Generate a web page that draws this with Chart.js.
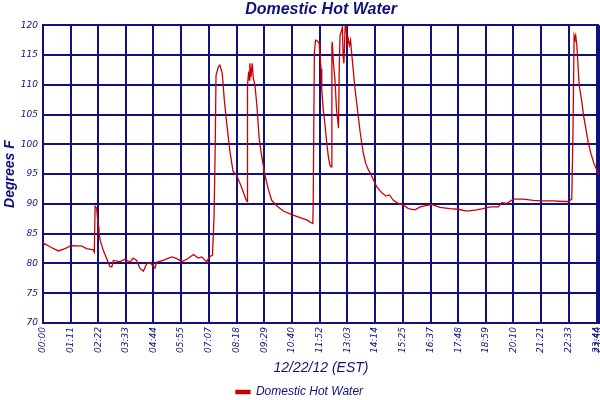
<!DOCTYPE html>
<html>
<head>
<meta charset="utf-8">
<script src="https://cdn.jsdelivr.net/npm/chart.js@4.4.1/dist/chart.umd.min.js"></script>
<style>
  html, body { margin: 0; padding: 0; background: #fff; }
  #wrap { width: 600px; height: 400px; }
</style>
</head>
<body>
<div id="wrap"><canvas id="hotWater"></canvas></div>
<script>
// readings: minutes after midnight / degrees F
const times = [0, 1, 18, 39, 57, 69, 78, 100, 112, 129, 132, 134, 138, 142, 144, 147, 155, 164, 172, 177,
  181, 198, 211, 224, 232, 241, 249, 258, 267, 275, 288, 292, 309, 331, 344, 357, 370, 387, 399, 408,
  421, 428, 436, 440, 443, 445, 451, 455, 461, 466, 472, 481, 489, 498, 507, 515, 521, 525, 526, 529,
  531, 532, 535, 538, 541, 545, 550, 556, 562, 571, 579, 588, 601, 618, 640, 661, 678, 691, 694, 695,
  698, 701, 705, 710, 712, 715, 717, 721, 725, 730, 734, 738, 741, 743, 744, 747, 751, 755, 758, 760,
  762, 764, 767, 770, 772, 774, 777, 779, 783, 785, 788, 791, 794, 798, 802, 807, 811, 815, 820, 824,
  830, 837, 843, 850, 858, 871, 882, 891, 901, 914, 927, 940, 957, 970, 1000, 1021, 1047, 1068, 1090, 1115,
  1132, 1150, 1171, 1180, 1193, 1210, 1235, 1261, 1287, 1312, 1338, 1351, 1360, 1363, 1366, 1368, 1370, 1373, 1375, 1379,
  1386, 1390, 1396, 1402, 1409, 1417, 1426, 1430];
const temps = [83.5, 83.4, 82.8, 82.1, 82.5, 82.9, 83.0, 82.9, 82.5, 82.3, 81.9, 89.6, 89.3, 86.2, 85.2, 83.9, 82.2, 80.8, 79.5, 79.4,
  80.5, 80.3, 80.7, 80.2, 80.9, 80.5, 79.2, 78.7, 80.0, 80.2, 79.2, 80.2, 80.5, 81.1, 80.8, 80.3, 80.7, 81.5, 80.9, 81.1,
  80.3, 81.1, 81.4, 88.1, 100.0, 111.6, 113.0, 113.3, 111.9, 107.7, 103.8, 98.7, 95.4, 94.8, 93.4, 92.0, 90.9, 90.4, 110.0, 112.2,
  110.8, 113.6, 111.3, 113.6, 111.1, 110.0, 106.6, 101.0, 98.2, 94.8, 92.6, 90.6, 89.7, 88.8, 88.2, 87.7, 87.3, 86.8, 86.7, 90.4,
  115.5, 117.5, 117.4, 117.0, 115.5, 112.7, 109.1, 105.7, 103.5, 100.1, 97.9, 96.5, 96.2, 116.4, 117.2, 113.6, 110.8, 105.7, 104.1, 102.7,
  113.0, 118.3, 118.9, 119.7, 114.7, 113.6, 119.7, 120.0, 116.9, 117.7, 116.6, 117.5, 115.2, 112.4, 109.6, 106.9, 104.6, 102.4, 100.1, 98.5,
  96.8, 95.7, 95.0, 94.0, 92.9, 91.9, 91.3, 91.5, 90.6, 90.1, 89.8, 89.2, 89.0, 89.5, 89.9, 89.4, 89.2, 89.1, 88.8, 89.0,
  89.2, 89.5, 89.5, 90.2, 90.1, 90.8, 90.8, 90.6, 90.5, 90.5, 90.4, 90.4, 90.8, 101.8, 118.3, 117.8, 118.3, 116.6, 114.4, 110.0,
  107.1, 104.9, 102.7, 100.4, 98.5, 96.8, 95.4, 95.0];

const tickLabels = ["00:00", "01:11", "02:22", "03:33", "04:44", "05:55", "07:07", "08:18", "09:29", "10:40",
  "11:52", "13:03", "14:14", "15:25", "16:37", "17:48", "18:59", "20:10", "21:21", "22:33", "23:44", "23:50"];
const tickMinutes = tickLabels.map(s => +s.slice(0, 2) * 60 + +s.slice(3));

const NAVY = "#10107e";
const RED = "#cc0000";
const BOTTOM_PAD = -8;

new Chart(document.getElementById("hotWater"), {
  type: "line",
  data: {
    datasets: [{
      label: "Domestic Hot Water",
      data: times.map((t, i) => ({ x: t, y: temps[i] })),
      borderColor: RED,
      backgroundColor: RED,
      borderWidth: 1.3,
      pointRadius: 0,
      tension: 0
    }]
  },
  options: {
    responsive: true,
    maintainAspectRatio: false,
    animation: false,
    layout: { padding: { left: 0, right: 1, top: 0, bottom: BOTTOM_PAD } },
    plugins: {
      title: {
        display: true,
        fullSize: false,
        text: "Domestic Hot Water",
        color: NAVY,
        font: { family: "Liberation Sans", size: 16, style: "italic", weight: "bold" },
        padding: { top: 0, bottom: 6 }
      },
      legend: {
        position: "bottom",
        labels: {
          color: NAVY,
          boxWidth: 14,
          boxHeight: 3,
          padding: 3,
          font: { family: "Liberation Sans", size: 12, style: "italic" }
        }
      },
      tooltip: { enabled: false }
    },
    scales: {
      x: {
        type: "linear",
        min: 0,
        max: 1430,
        afterBuildTicks: s => { s.ticks = tickMinutes.map(v => ({ value: v })); },
        afterFit: s => {
          s.height = s.chart.height - BOTTOM_PAD - 323 - s.chart.legend.height;
          s.paddingLeft = 0;
          s.paddingRight = 0;
        },
        grid: { color: NAVY, lineWidth: 2, drawTicks: false },
        border: { color: NAVY, width: 2 },
        ticks: {
          autoSkip: false,
          minRotation: 90,
          maxRotation: 90,
          padding: 4,
          color: NAVY,
          font: { family: "DejaVu Sans", size: 9, style: "italic" },
          callback: (v, i) => tickLabels[i]
        },
        title: {
          display: true,
          text: "12/22/12 (EST)",
          color: NAVY,
          font: { family: "Liberation Sans", size: 14, style: "italic" },
          padding: { top: 0, bottom: 6 }
        }
      },
      y: {
        min: 70,
        max: 120,
        afterFit: s => { s.width = 43; },
        grid: { color: NAVY, lineWidth: 2, drawTicks: false },
        border: { color: NAVY, width: 2 },
        ticks: {
          stepSize: 5,
          padding: 5,
          color: NAVY,
          font: { family: "DejaVu Sans", size: 9, style: "italic" }
        },
        title: {
          display: true,
          text: "Degrees F",
          color: NAVY,
          font: { family: "Liberation Sans", size: 14, style: "italic", weight: "bold" },
          padding: { top: 2, bottom: 0 }
        }
      }
    }
  }
});
</script>
</body>
</html>
